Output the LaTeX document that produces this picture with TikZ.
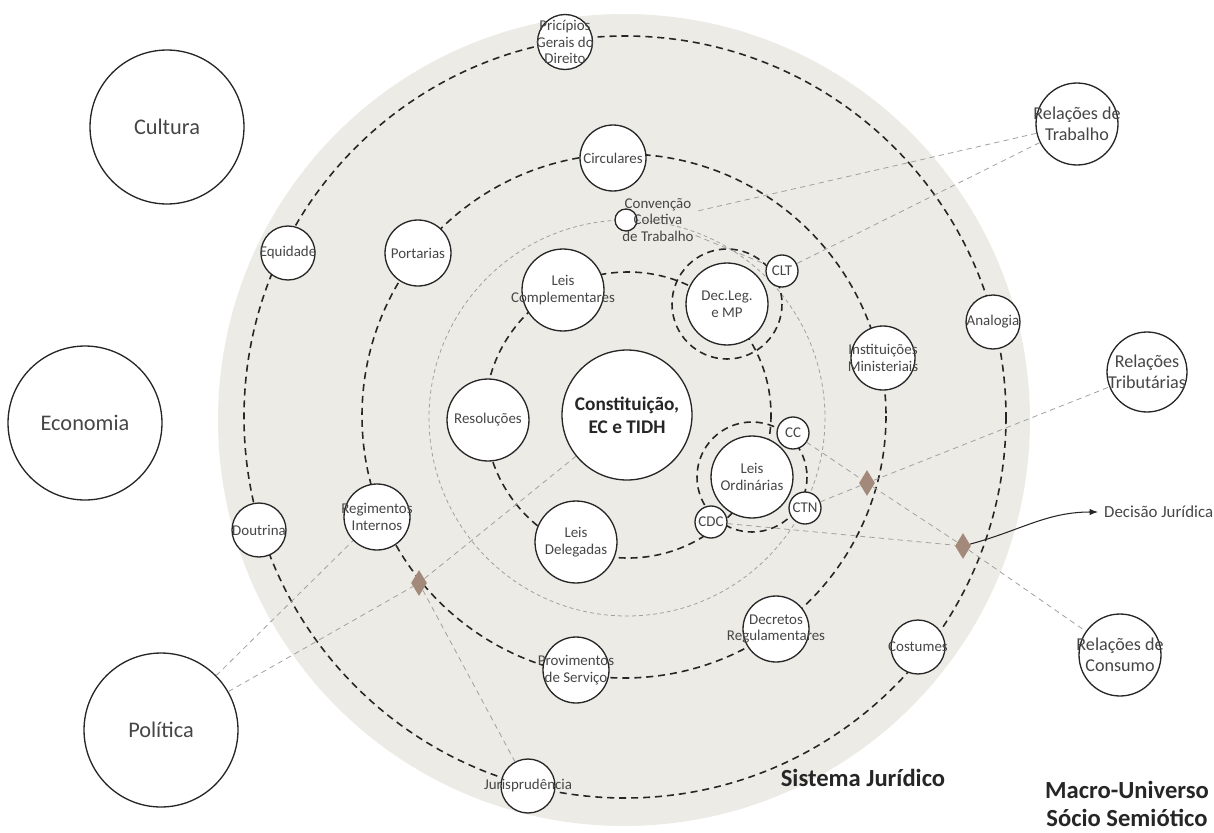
\documentclass[tikz,border=0pt]{standalone}
\usepackage{fontspec}
\setmainfont{Carlito}
\usepackage{tikz}
\usetikzlibrary{arrows.meta,shapes.geometric}
\definecolor{BegeSistema}{RGB}{237,235,229}
\definecolor{TintaEscura}{RGB}{38,38,38}
\definecolor{TextoCinza}{RGB}{70,70,70}
\definecolor{CinzaLinha}{RGB}{160,160,160}
\definecolor{MarromNo}{RGB}{163,137,122}

\begin{document}
\begin{tikzpicture}[x=0.02cm,y=-0.02cm,>=Latex,
  orbita/.style={dash pattern=on 4pt off 2.8pt,line width=0.9pt,TintaEscura},
  orbitafina/.style={dash pattern=on 2.2pt off 1.8pt,line width=0.45pt,CinzaLinha},
  ligacao/.style={dash pattern=on 3pt off 2.4pt,line width=0.45pt,CinzaLinha},
  bola/.style={circle,draw=TintaEscura,fill=white,line width=0.75pt,inner sep=0pt,minimum size=#1},
  rotulo/.style={text=TextoCinza,font=\fontsize{8.5}{9.5}\selectfont,align=center},
  relacao/.style={text=TextoCinza,font=\fontsize{10.3}{11.7}\selectfont,align=center},
  grande/.style={text=TextoCinza,font=\fontsize{12.7}{15}\selectfont},
  titulo/.style={text=TintaEscura,font=\bfseries\fontsize{14}{16.4}\selectfont,align=center},
  losango/.style={diamond,fill=MarromNo,inner sep=0pt,minimum width=0.32cm,minimum height=0.52cm}]
  \useasboundingbox (0,0) rectangle (1214,832);
  \fill[BegeSistema] (624,420) circle (406);
  \draw[orbita] (625,417) circle (381);
  \draw[orbita] (624,416) circle (262);
  \draw[orbitafina] (627,418) circle (198);
  \draw[orbita] (628,415) circle (143);
  \draw[orbita] (727,304) circle (55);
  \draw[orbita] (752,477) circle (55);

  \node[bola=3.08cm,label={[grande]center:Cultura}] (cultura) at (167,127) {};
  \node[bola=3.08cm,label={[grande]center:Economia}] (economia) at (85,423) {};
  \node[bola=3.08cm,label={[grande]center:Política}] (politica) at (161,730) {};
  \node[bola=1.64cm,label={[relacao]center:{Relações de\\Trabalho}}] (reltrab) at (1077,124) {};
  \node[bola=1.6cm,label={[relacao]center:{Relações\\Tributárias}}] (reltrib) at (1147,372) {};
  \node[bola=1.64cm,label={[relacao]center:{Relações de\\Consumo}}] (relcons) at (1120,655) {};

  \node[bola=1.1cm,label={[rotulo]center:{Pricípios\\Gerais do\\Direito}}] (principios) at (565,42) {};
  \node[bola=1.08cm,label={[rotulo]center:Equidade}] (equidade) at (288,253) {};
  \node[bola=1.08cm,label={[rotulo]center:Doutrina}] (doutrina) at (259,530) {};
  \node[bola=1.08cm,label={[rotulo]center:Jurisprudência}] (juris) at (528,786) {};
  \node[bola=1.08cm,label={[rotulo]center:Costumes}] (costumes) at (918,647) {};
  \node[bola=1.08cm,label={[rotulo]center:Analogia}] (analogia) at (993,322) {};

  \node[bola=1.32cm,label={[rotulo]center:Circulares}] (circulares) at (613,158) {};
  \node[bola=1.32cm,label={[rotulo]center:Portarias}] (portarias) at (418,253) {};
  \node[bola=1.32cm,label={[rotulo]center:{Regimentos\\Internos}}] (regimentos) at (377,517) {};
  \node[bola=1.32cm,label={[rotulo]center:{Provimentos\\de Serviço}}] (provimentos) at (576,670) {};
  \node[bola=1.32cm,label={[rotulo]center:{Decretos\\Regulamentares}}] (decretos) at (776,629) {};
  \node[bola=1.28cm,label={[rotulo]center:{Instituições\\Ministeriais}}] (instituicoes) at (883,358) {};

  \node[bola=2.6cm,label={[text=TintaEscura,font=\bfseries\fontsize{11}{13.2}\selectfont,align=center]center:{Constituição,\\EC e TIDH}}] (constituicao) at (627,415) {};
  \node[bola=1.64cm,label={[rotulo]center:{Leis\\Complementares}}] (leiscompl) at (563,290) {};
  \node[bola=1.64cm,label={[rotulo]center:Resoluções}] (resolucoes) at (488,420) {};
  \node[bola=1.64cm,label={[rotulo]center:{Leis\\Delegadas}}] (leisdeleg) at (576,542) {};
  \node[bola=1.64cm,label={[rotulo]center:{Dec.Leg.\\e MP}}] (decleg) at (727,304) {};
  \node[bola=1.64cm,label={[rotulo]center:{Leis\\Ordinárias}}] (leisord) at (752,477) {};

  \node[bola=0.64cm,label={[rotulo]center:CLT}] (clt) at (782,271) {};
  \node[bola=0.64cm,label={[rotulo]center:CC}] (cc) at (793,433) {};
  \node[bola=0.64cm,label={[rotulo]center:CTN}] (ctn) at (805,508) {};
  \node[bola=0.64cm,label={[rotulo]center:CDC}] (cdc) at (711,522) {};
  \node[bola=0.44cm] (convencao) at (626,220) {};
  \node[rotulo,inner sep=1pt] (convtexto) at (658,220) {Convenção\\Coletiva\\de Trabalho};

  \node[losango] (nodo1) at (867,483) {};
  \node[losango] (nodo2) at (963,546) {};
  \node[losango] (nodo3) at (419,583) {};

  \draw[ligacao] (reltrab) -- (convtexto);
  \draw[ligacao] (convtexto) -- (clt);
  \draw[ligacao] (reltrab) -- (clt);
  \draw[ligacao] (ctn) -- (nodo1) -- (reltrib);
  \draw[ligacao] (cc) -- (nodo1) -- (nodo2) -- (relcons);
  \draw[ligacao] (cdc) -- (nodo2);
  \draw[ligacao] (politica) -- (regimentos);
  \draw[ligacao] (politica) -- (nodo3) -- (constituicao);
  \draw[ligacao] (nodo3) -- (juris);

  \node[anchor=west,text=TextoCinza,font=\fontsize{9.6}{11}\selectfont] (decisao) at (1098,512) {Decisão Jurídica};
  \draw[-{Latex[length=1.7mm,width=1.3mm]},TintaEscura,line width=0.6pt] (nodo2) to[out=15,in=180] (decisao);

  \node[titulo] (sistema) at (863,778) {Sistema Jurídico};
  \node[titulo] (macro) at (1127,804) {Macro-Universo\\Sócio Semiótico};
\end{tikzpicture}
\end{document}
